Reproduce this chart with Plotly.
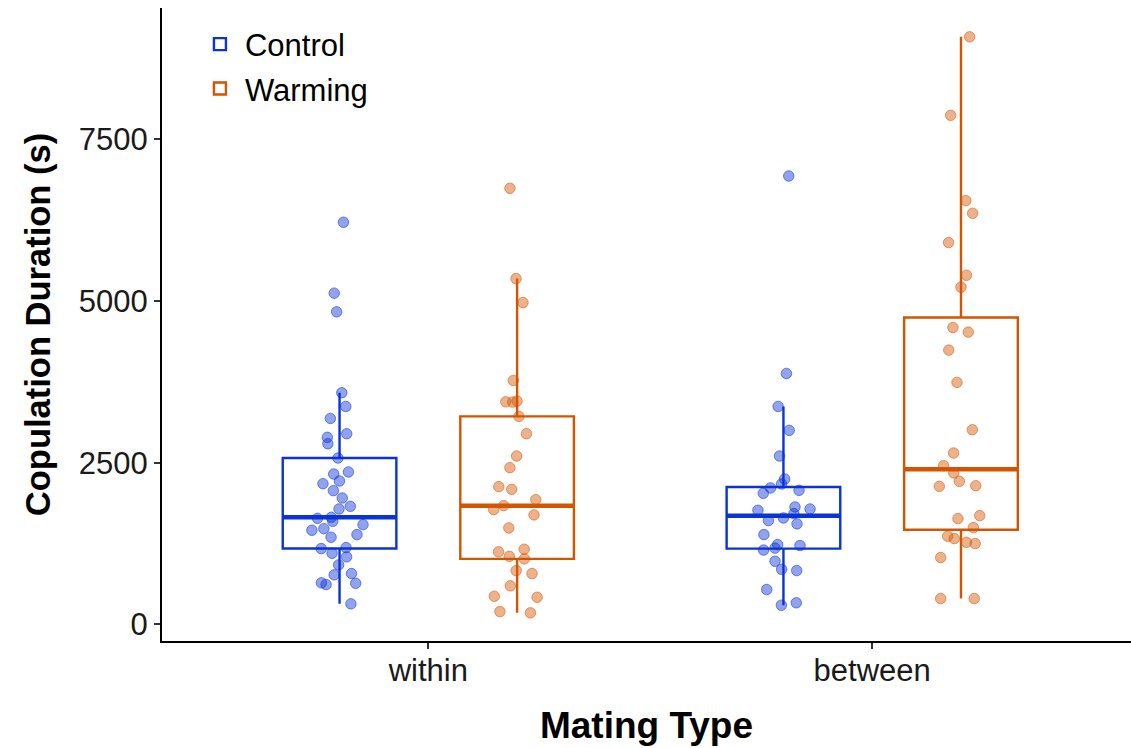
import numpy as np
import plotly.graph_objects as go

categories = ["within", "between"]
series_names = ["Control", "Warming"]

control_within = [6214, 5119, 4830, 3580, 3369, 3184, 2947, 2891, 2793, 2572, 2356, 2325,
                  2217, 2176, 2068, 1955, 1826, 1785, 1656, 1640, 1594, 1543, 1481, 1456,
                  1389, 1348, 1188, 1173, 1100, 1045, 921, 787, 767, 643, 637, 617, 319]
warming_within = [6739, 5344, 4974, 3770, 3452, 3440, 3436, 3215, 2947, 2603, 2423, 2130,
                  2088, 1929, 1836, 1775, 1693, 1492, 1163, 1122, 1054, 1014, 833, 787,
                  597, 437, 421, 180, 200]
control_between = [6929, 3878, 3369, 2999, 2603, 2248, 2171, 2110, 2073, 2026, 1816, 1785,
                   1764, 1713, 1646, 1605, 1554, 1389, 1235, 1220, 1180, 1150, 977, 853,
                   833, 540, 335, 298]
warming_between = [9079, 7866, 6548, 6353, 5900, 5396, 5211, 4588, 4517, 4239, 3740, 3009,
                   2649, 2454, 2341, 2212, 2145, 2134, 1682, 1636, 1497, 1363, 1327, 1270,
                   1250, 1034, 401, 401]

y_ticks = [0, 2500, 5000, 7500]

colors = {"Control": "#0a33d8", "Warming": "#d55400"}
point_fill = {"Control": "rgba(10,51,216,0.45)", "Warming": "rgba(213,84,0,0.45)"}
point_line = {"Control": "rgba(10,51,216,0.55)", "Warming": "rgba(213,84,0,0.55)"}

data = {
    "Control": [control_within, control_between],
    "Warming": [warming_within, warming_between],
}

BOXGAP = 0.2
BOXGROUPGAP = 0.36
FONT = "Liberation Sans, Arial, sans-serif"


def box_stats(vals):
    v = np.asarray(vals, dtype=float)
    q1, med, q3 = np.percentile(v, [25, 50, 75])  # same as R type 7 (ggplot)
    iqr = q3 - q1
    lo = v[v >= q1 - 1.5 * iqr].min()
    hi = v[v <= q3 + 1.5 * iqr].max()
    return q1, med, q3, lo, hi


fig = go.Figure()
stats = {}
for name in series_names:
    st = [box_stats(vals) for vals in data[name]]
    stats[name] = st
    fig.add_trace(go.Box(
        x=categories,
        q1=[s[0] for s in st], median=[s[1] for s in st], q3=[s[2] for s in st],
        lowerfence=[s[3] for s in st], upperfence=[s[4] for s in st],
        name=name, offsetgroup=name, legendgroup=name,
        boxpoints=False,
        line=dict(color=colors[name], width=2.4),
        fillcolor="rgba(255,255,255,0)",
        whiskerwidth=0,
    ))

for name in series_names:
    xs, ys = [], []
    for cat, vals in zip(categories, data[name]):
        xs += [cat] * len(vals)
        ys += vals
    fig.add_trace(go.Box(
        x=xs, y=ys, name=name, offsetgroup=name, legendgroup=name,
        showlegend=False,
        boxpoints="all", jitter=0.5, pointpos=0,
        line=dict(color="rgba(0,0,0,0)", width=0),
        fillcolor="rgba(0,0,0,0)",
        marker=dict(color=point_fill[name], size=10.5,
                    line=dict(color=point_line[name], width=1)),
        whiskerwidth=0,
        hoveron="points",
    ))

# thicker median lines (ggplot style)
group_w = 1 - BOXGAP
box_w = group_w / len(series_names) * (1 - BOXGROUPGAP)
shapes = []
for k, name in enumerate(series_names):
    off = -group_w / 2 + (k + 0.5) * group_w / len(series_names)
    for i, s in enumerate(stats[name]):
        c = i + off
        shapes.append(dict(type="line", xref="x", yref="y",
                           x0=c - box_w / 2, x1=c + box_w / 2, y0=s[1], y1=s[1],
                           line=dict(color=colors[name], width=4.5)))

fig.update_layout(
    width=1131, height=748,
    margin=dict(l=162, r=0, t=8, b=107),
    paper_bgcolor="white", plot_bgcolor="white",
    boxmode="group", boxgap=BOXGAP, boxgroupgap=BOXGROUPGAP,
    font=dict(family=FONT, size=31, color="#1a1a1a"),
    shapes=shapes,
    showlegend=True,
    legend=dict(x=0.034, y=0.985, xanchor="left", yanchor="top",
                bgcolor="rgba(0,0,0,0)", font=dict(size=31, color="black"),
                itemwidth=40, tracegroupgap=1),
)
fig.update_xaxes(
    type="category", categoryorder="array", categoryarray=categories,
    range=[-0.6, 1.583],
    showline=True, linecolor="black", linewidth=2.2, mirror=False,
    ticks="outside", ticklen=6, tickwidth=1.5, tickcolor="#333333",
    tickfont=dict(size=31, color="#1a1a1a"),
    ticklabelstandoff=-5,
    showgrid=False, zeroline=False,
    title=dict(text="<b>Mating Type</b>", font=dict(size=37, color="black"), standoff=25),
    automargin=False,
)
fig.update_yaxes(
    range=[-255, 9524],
    tickvals=y_ticks, ticktext=[str(t) for t in y_ticks],
    showline=True, linecolor="black", linewidth=2.2,
    ticks="outside", ticklen=6, tickwidth=1.5, tickcolor="#333333",
    tickfont=dict(size=31, color="#1a1a1a"),
    showgrid=False, zeroline=False,
    title=dict(text="<b>Copulation Duration (s)</b>", font=dict(size=34.5, color="black"), standoff=18),
    automargin=False,
)

fig.write_html("out.html",
               config={"displayModeBar": False},
               post_script="document.body.style.margin='0';document.body.style.overflow='hidden';")
